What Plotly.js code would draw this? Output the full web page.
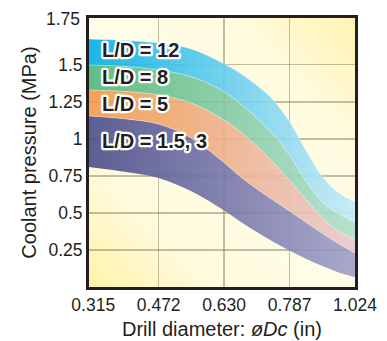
<!DOCTYPE html>
<html><head><meta charset="utf-8">
<script src="https://cdn.plot.ly/plotly-3.0.1.min.js"></script>
<style>
html,body{margin:0;padding:0;background:#fff;}
#wrap{position:relative;width:387px;height:341px;}
#bg{position:absolute;left:89px;top:18px;width:266px;height:269px;
 background:linear-gradient(to top right,#fff3a8 0%,#fffadb 22%,#fffde9 50%,#fffbe0 75%,#fff4b2 100%);}
#chart{position:absolute;left:0;top:0;width:387px;height:341px;}
.annotation[data-index="0"] text,.annotation[data-index="1"] text,
.annotation[data-index="2"] text,.annotation[data-index="3"] text{
 paint-order:stroke fill;stroke:#fff;stroke-width:4.5px;stroke-linejoin:round;}
</style>
</head><body>
<div id="wrap"><div id="bg"></div><div id="chart"></div></div>
<script>
// Sample positions along the x axis (index of diameter tick: 0 = 0.315 ... 4 = 1.024)
const xPos = [-0.07, 0.5, 1, 1.5, 2, 2.25, 2.5, 2.75, 3, 3.25, 3.5, 3.75, 4];
const tickVals = [0, 1, 2, 3, 4];
const tickLabels = ['0.315', '0.472', '0.630', '0.787', '1.024'];
const yTickVals = [0.25, 0.5, 0.75, 1, 1.25, 1.5];
const yTickLabels = ['0.25', '0.5', '0.75', '1', '1.25', '1.5'];

// Band boundaries (coolant pressure, MPa)
const ld12Top    = [1.673, 1.663, 1.646, 1.606, 1.506, 1.441, 1.361, 1.261, 1.116, 0.921, 0.746, 0.636, 0.576];
const ld8Top     = [1.498, 1.488, 1.464, 1.419, 1.319, 1.234, 1.139, 1.029, 0.889, 0.714, 0.574, 0.494, 0.439];
const ld5Top     = [1.329, 1.319, 1.296, 1.241, 1.126, 1.046, 0.951, 0.841, 0.718, 0.591, 0.471, 0.376, 0.321];
const ld15Top    = [1.154, 1.134, 1.099, 1.004, 0.839, 0.744, 0.662, 0.587, 0.512, 0.437, 0.362, 0.292, 0.229];
const ld15Bottom = [0.810, 0.776, 0.736, 0.646, 0.516, 0.441, 0.371, 0.306, 0.246, 0.191, 0.141, 0.098, 0.066];

const bandLabels = ['L/D = 12', 'L/D = 8', 'L/D = 5', 'L/D = 1.5, 3'];

const edge = {color: 'rgba(255,255,255,0.45)', width: 0.8, shape: 'spline', smoothing: 1};
function band(y, c0, c1) {
  return {x: xPos, y: y, mode: 'lines', line: edge, fill: 'tonexty',
    fillgradient: {type: 'horizontal', colorscale: [[0, c0], [1, c1]]},
    hoverinfo: 'skip', showlegend: false};
}
const traces = [
  {x: xPos, y: ld15Bottom, mode: 'lines', line: {width: 0, shape: 'spline', smoothing: 1}, hoverinfo: 'skip', showlegend: false},
  band(ld15Top, 'rgba(74,77,138,0.9)', 'rgba(160,158,200,0.9)'),
  band(ld5Top, 'rgba(243,152,72,0.9)', 'rgba(232,200,206,0.9)'),
  band(ld8Top, 'rgba(80,182,122,0.9)', 'rgba(176,222,204,0.9)'),
  band(ld12Top, 'rgba(0,174,230,0.9)', 'rgba(196,234,246,0.9)')
];

const fam = 'Liberation Sans, Arial, sans-serif';
const tickFont = {family: fam, size: 17.5, color: '#231f20'};
const lblFont = {family: fam, size: 20, color: '#231f20', weight: 'bold'};
const labelY = [0.881, 0.781, 0.680, 0.543];
const annotations = bandLabels.map((t, i) => ({
  text: '<b>' + t + '</b>', xref: 'paper', yref: 'paper', x: 0.042, y: labelY[i],
  xanchor: 'left', yanchor: 'middle', showarrow: false, font: lblFont
}));
annotations.push({text: '1.75', xref: 'paper', yref: 'paper', x: 0, y: 1, xanchor: 'right',
  yanchor: 'middle', xshift: -7, yshift: -1, showarrow: false, font: tickFont});

const grid = {showgrid: true, gridcolor: 'rgba(125,115,75,0.45)', gridwidth: 1.6};
const layout = {
  width: 387, height: 341,
  margin: {l: 89, r: 32, t: 18, b: 54},
  paper_bgcolor: 'rgba(0,0,0,0)', plot_bgcolor: 'rgba(0,0,0,0)',
  showlegend: false,
  xaxis: {range: [-0.065, 4], tickmode: 'array', tickvals: tickVals, ticktext: tickLabels,
    showgrid: false, minor: Object.assign({tickvals: [1, 2, 3], ticks: ''}, grid),
    zeroline: false, showline: true, mirror: true, linecolor: '#231f20', linewidth: 3,
    ticks: '', tickfont: tickFont,
    title: {text: 'Drill diameter: <i>øDc</i> (in)', font: {family: fam, size: 20, color: '#231f20'}, standoff: 8}},
  yaxis: Object.assign({range: [0, 1.815], tickmode: 'array', tickvals: yTickVals, ticktext: yTickLabels,
    zeroline: false, showline: true, mirror: true, linecolor: '#231f20', linewidth: 3,
    ticks: '', tickfont: tickFont,
    title: {text: 'Coolant pressure (MPa)', font: {family: fam, size: 20, color: '#231f20'}, standoff: 7}}, grid),
  annotations: annotations
};
Plotly.newPlot('chart', traces, layout, {displayModeBar: false, staticPlot: true});
</script>
</body></html>
